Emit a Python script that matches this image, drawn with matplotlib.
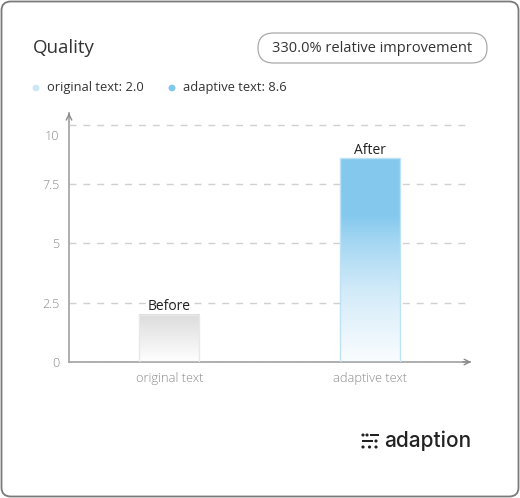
import numpy as np
import matplotlib.pyplot as plt
import matplotlib.transforms as mtransforms
from matplotlib.patches import FancyBboxPatch, Rectangle, Circle
from matplotlib.colors import LinearSegmentedColormap

categories = ['original text', 'adaptive text']
values = [2.0, 8.6]
bar_labels = ['Before', 'After']
yticks = [0, 2.5, 5, 7.5, 10]
ytick_labels = ['0', '2.5', '5', '7.5', '10']
legend_colors = ['#cde7f5', '#82c8ee']

plt.rcParams['font.family'] = ['Open Sans', 'DejaVu Sans']

W, H = 520, 498
fig = plt.figure(figsize=(W / 100, H / 100), dpi=100)

def fx(px):
    return px / W

def fy(py):
    return 1 - py / H

# outer frame
fig.patches.append(FancyBboxPatch((fx(1.5), fy(496.5)), fx(517), 495 / H,
                                  boxstyle='round,pad=0,rounding_size=0.018',
                                  transform=fig.transFigure, fc='white', ec='#7a7a7a', lw=1.3,
                                  zorder=-5))

# title & pill
fig.text(fx(33), fy(48), 'Quality', fontsize=13.5, color='#333333', va='center', ha='left')
fig.patches.append(FancyBboxPatch((fx(258), fy(63)), fx(229), 30 / H,
                                  boxstyle='round,pad=0,rounding_size=0.03',
                                  transform=fig.transFigure, fc='white', ec='#aaaaaa', lw=0.9))
fig.text(fx(372.5), fy(48), '330.0% relative improvement', fontsize=10.5, color='#333333',
         va='center', ha='center')

# legend
leg_x = [36, 172]
for i, (c, v) in enumerate(zip(categories, values)):
    fig.patches.append(Circle((fx(leg_x[i]), fy(88)), 3.5 / W, transform=fig.transFigure,
                              fc=legend_colors[i], ec='none'))
    fig.text(fx(leg_x[i] + 11), fy(88), f'{c}: {v:.1f}', fontsize=9.3, color='#333333',
             va='center', ha='left')

# axes
ax = fig.add_axes([fx(69), fy(362), fx(470 - 69), (362 - 113) / H])
ax.set_zorder(2)
ax.patch.set_alpha(0)
ax.set_xlim(-0.5, 1.5)
ax.set_ylim(0, 10.5)
for s in ['top', 'right']:
    ax.spines[s].set_visible(False)
for s in ['left', 'bottom']:
    ax.spines[s].set_color('#a8a8a8')
    ax.spines[s].set_linewidth(1.3)
ax.set_yticks(yticks)
ax.set_yticklabels(ytick_labels)
ax.set_xticks(range(len(categories)))
ax.set_xticklabels(categories)
ax.tick_params(length=0, colors='#8a8a8a', labelsize=9, pad=7)
ax.tick_params(axis='x', labelsize=9.3)
for t in ax.get_yticklabels() + ax.get_xticklabels():
    t.set_fontweight('light')
# the top label sits a little below its gridline in the original
top_lbl = ax.get_yticklabels()[-1]
top_lbl.set_transform(top_lbl.get_transform() +
                      mtransforms.ScaledTranslation(0, -10 / 100, fig.dpi_scale_trans))
ax.yaxis.grid(True, color='#d0d0d0', ls=(0, (5, 5)), lw=1)
ax.set_axisbelow(True)

# axis arrows
ax.annotate('', xy=(1.52, 0), xytext=(1.45, 0), xycoords='data',
            arrowprops=dict(arrowstyle='->', color='#8a8a8a', lw=1), annotation_clip=False)
ax.annotate('', xy=(-0.5, 10.62), xytext=(-0.5, 10.3),
            arrowprops=dict(arrowstyle='->', color='#8a8a8a', lw=1), annotation_clip=False)

grey_cmap = LinearSegmentedColormap.from_list('g', [(0, '#ffffff'), (1, '#dcdcdc')])
blue_cmap = LinearSegmentedColormap.from_list('b', [(0, '#fbfdff'), (0.35, '#d2ebf9'),
                                                    (0.6, '#a3d6f2'), (0.72, '#84c9ee'),
                                                    (1, '#84c8ee')])
cmaps = [grey_cmap, blue_cmap]
edges = ['#e8e8e8', '#bfe2f6']
bw = 0.3
grad = np.linspace(0, 1, 256).reshape(-1, 1)
for i, v in enumerate(values):
    ax.imshow(grad, cmap=cmaps[i], aspect='auto', origin='lower',
              extent=(i - bw / 2, i + bw / 2, 0, v), zorder=2)
    ax.add_patch(Rectangle((i - bw / 2, 0), bw, v, fc='none', ec=edges[i], lw=1, zorder=3))
    ax.text(i, v + 0.02, bar_labels[i], ha='center', va='bottom', fontsize=10, color='#222222', zorder=4)
ax.set_xlim(-0.5, 1.5)
ax.set_ylim(0, 10.5)

# logo
icon = '#222222'
for (x, y) in [(363, 435), (367, 435), (376, 441), (363, 447), (369.5, 447), (376, 447)]:
    fig.patches.append(Circle((fx(x), fy(y)), 1.6 / W, transform=fig.transFigure, fc=icon, ec='none'))
fig.patches.append(Rectangle((fx(370), fy(436.2)), fx(9), 2.4 / H, transform=fig.transFigure, fc=icon, ec='none'))
fig.patches.append(Rectangle((fx(361.5), fy(442.2)), fx(11), 2.4 / H, transform=fig.transFigure, fc=icon, ec='none'))
fig.text(fx(384), fy(441), 'adaption', fontsize=15, color='#222222', va='center', ha='left',
         family=['Inter', 'DejaVu Sans'], fontweight='medium')

fig.savefig('out.png', dpi=100)
